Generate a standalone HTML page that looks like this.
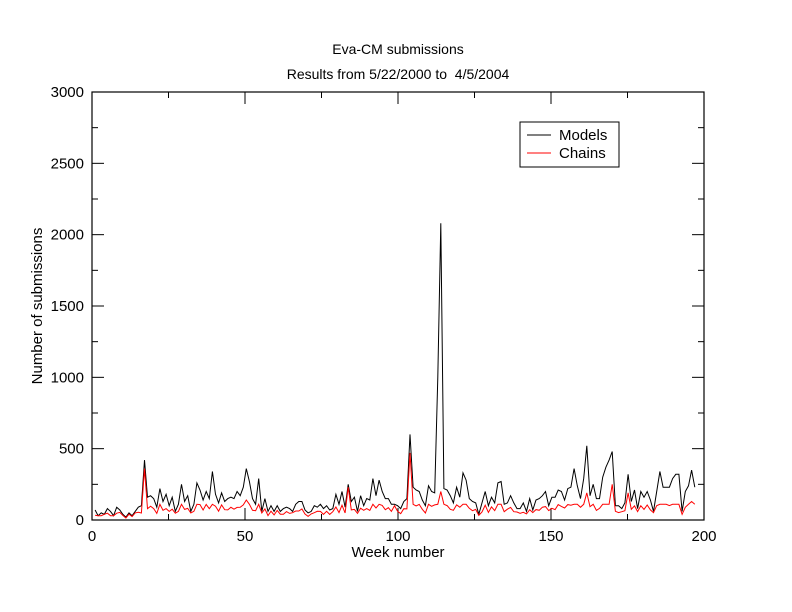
<!DOCTYPE html>
<html><head><meta charset="utf-8"><style>
body{margin:0;background:#fff}
svg{display:block;font-family:"Liberation Sans",sans-serif}
</style></head><body>
<svg id="s" width="792" height="612" xmlns="http://www.w3.org/2000/svg">
<rect width="792" height="612" fill="#fff"/>
<text x="398" y="54" font-size="14" text-anchor="middle">Eva-CM submissions</text>
<text x="398" y="79" font-size="14" text-anchor="middle" xml:space="preserve">Results from 5/22/2000 to  4/5/2004</text>
<g id="ticks" stroke="#000" stroke-width="1"></g>
<rect x="92" y="92" width="612" height="428" fill="none" stroke="#000" stroke-width="1.2"/>
<g id="labels" font-size="15"></g>
<text x="398" y="557" font-size="15" text-anchor="middle">Week number</text>
<text transform="translate(42,306) rotate(-90)" font-size="15" text-anchor="middle">Number of submissions</text>
<polyline id="m" fill="none" stroke="#000" stroke-width="1"/>
<polyline id="c" fill="none" stroke="#f00" stroke-width="1"/>
<rect x="520" y="122" width="99" height="45" fill="#fff" stroke="#000"/>
<line x1="527" y1="135" x2="551" y2="135" stroke="#000"/>
<line x1="527" y1="153" x2="551" y2="153" stroke="#f00"/>
<text x="559" y="140" font-size="15">Models</text>
<text x="559" y="158" font-size="15">Chains</text>
</svg>
<script>
var M=[70,30,50,40,80,60,30,90,70,40,20,50,30,60,90,100,420,160,170,150,90,220,130,180,100,160,60,110,250,130,170,60,110,260,210,140,200,150,340,180,120,190,130,150,160,150,200,170,230,360,270,150,110,290,60,150,60,100,60,100,60,80,90,80,60,110,130,130,70,50,60,100,90,110,80,100,70,80,180,110,200,90,250,130,160,60,170,100,150,140,290,170,280,200,150,150,110,110,100,80,130,150,600,230,210,200,140,100,240,200,190,1000,2080,220,210,170,120,230,160,330,280,150,130,120,40,120,200,100,160,120,260,270,110,120,170,120,80,80,120,60,150,70,140,150,170,200,100,160,160,210,200,140,220,230,360,240,150,290,520,170,250,150,150,300,370,420,480,100,100,80,120,320,130,210,80,200,160,200,140,60,200,340,230,230,230,290,320,320,60,200,240,350,230];
var X=function(w){return 92+w*3.06},Y=function(v){return 520-v*428/3000};
var ov={17:360,50:140,83:230,103:470,113:200,159:190,167:250,172:190,192:130,39:110,98:100};
var mp=[],cp=[],n=M.length;
for(var i=0;i<n;i++){var w=i*(1+1/112)+1;if(i>=113)w=115+(i-113)*(197-115)/(n-1-113);
var v=M[i];var c=ov[i+1]!==undefined?ov[i+1]:Math.min(110,Math.round(v*0.42+15+((i*37)%23)-11));
if(v<60)c=Math.min(c,v);
mp.push(X(w).toFixed(1)+","+Y(v).toFixed(1));cp.push(X(w).toFixed(1)+","+Y(c).toFixed(1));}
document.getElementById('m').setAttribute('points',mp.join(' '));
document.getElementById('c').setAttribute('points',cp.join(' '));
var t='',l='';
for(var v=0;v<=3000;v+=250){var y=Y(v),L=v%500==0?12:6;
t+='<line x1="92" y1="'+y+'" x2="'+(92+L)+'" y2="'+y+'"/><line x1="704" y1="'+y+'" x2="'+(704-L)+'" y2="'+y+'"/>';
if(v%500==0)l+='<text x="84" y="'+(y+5)+'" text-anchor="end">'+v+'</text>';}
for(var w=0;w<=200;w+=25){var x=X(w),L=w%50==0?12:6;
t+='<line x1="'+x+'" y1="520" x2="'+x+'" y2="'+(520-L)+'"/><line x1="'+x+'" y1="92" x2="'+x+'" y2="'+(92+L)+'"/>';
if(w%50==0)l+='<text x="'+x+'" y="541" text-anchor="middle">'+w+'</text>';}
document.getElementById('ticks').innerHTML=t;
document.getElementById('labels').innerHTML=l;
</script>
</body></html>
